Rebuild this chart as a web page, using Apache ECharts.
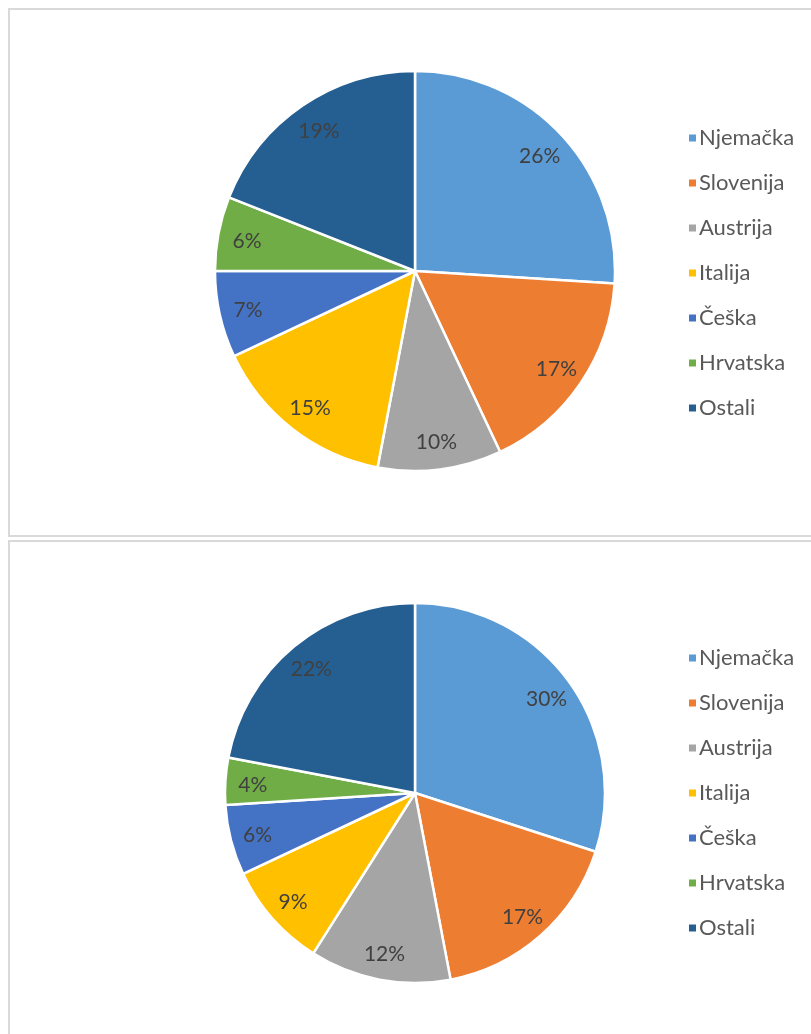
<!DOCTYPE html>
<html>
<head>
<meta charset="utf-8">
<script src="https://cdn.jsdelivr.net/npm/echarts@6/dist/echarts.min.js"></script>
<style>
  html, body { margin: 0; padding: 0; background: #fff; }
  #main { width: 811px; height: 1034px; }
</style>
</head>
<body>
<div id="main"></div>
<script>
// zemlje i udjeli (%)
var countries = ['Njemačka', 'Slovenija', 'Austrija', 'Italija', 'Češka', 'Hrvatska', 'Ostali']
var shareTop = [26, 17, 10, 15, 7, 6, 19]
var shareBottom = [30, 17, 12, 9, 6, 4, 22]
var colors = ['#5B9BD5', '#ED7D31', '#A5A5A5', '#FFC000', '#4472C4', '#70AD47', '#255E91']

var FONT = 'Lato'

function toData (values) {
  return countries.map(function (name, i) {
    return { name: name, value: values[i] }
  })
}

// prava pita
function pieSeries (values, center, r) {
  return {
    type: 'pie',
    center: center,
    radius: [0, r],
    startAngle: 90,
    clockwise: true,
    silent: true,
    label: { show: false },
    labelLine: { show: false },
    itemStyle: { borderColor: '#fff', borderWidth: 2.5 },
    data: toData(values)
  }
}

// nevidljiva pita samo za oznake (postotke) - da budu blize rubu
function labelSeries (values, center, r) {
  return {
    type: 'pie',
    center: center,
    radius: [0, r * 0.84 * 2],
    startAngle: 90,
    clockwise: true,
    silent: true,
    itemStyle: { color: 'transparent' },
    label: {
      show: true,
      position: 'inside',
      formatter: '{c}%',
      color: '#404040',
      fontFamily: FONT,
      fontSize: 21,
      offset: [0, 2]
    },
    labelLine: { show: false },
    data: toData(values)
  }
}

function legend (top) {
  return {
    orient: 'vertical',
    left: 682,
    top: top,
    icon: 'rect',
    itemWidth: 9,
    itemHeight: 9,
    itemGap: 23,
    selectedMode: false,
    data: countries,
    textStyle: {
      color: '#595959',
      fontFamily: FONT,
      fontSize: 22,
      lineHeight: 22,
      padding: [0, 0, 0, -3]
    }
  }
}

var myChart = echarts.init(document.getElementById('main'))

var option = {
  color: colors,
  animation: false,
  graphic: [
    {
      type: 'rect',
      shape: { x: 9, y: 9, width: 900, height: 527 },
      style: { fill: 'none', stroke: '#D9D9D9', lineWidth: 2 }
    },
    {
      type: 'rect',
      shape: { x: 9, y: 541, width: 900, height: 600 },
      style: { fill: 'none', stroke: '#D9D9D9', lineWidth: 2 }
    }
  ],
  legend: [legend(122), legend(642)],
  series: [
    pieSeries(shareTop, [415, 271], 200),
    pieSeries(shareBottom, [415, 793], 190),
    labelSeries(shareTop, [415, 271], 200),
    labelSeries(shareBottom, [415, 793], 190)
  ]
}

myChart.setOption(option)
</script>
</body>
</html>
